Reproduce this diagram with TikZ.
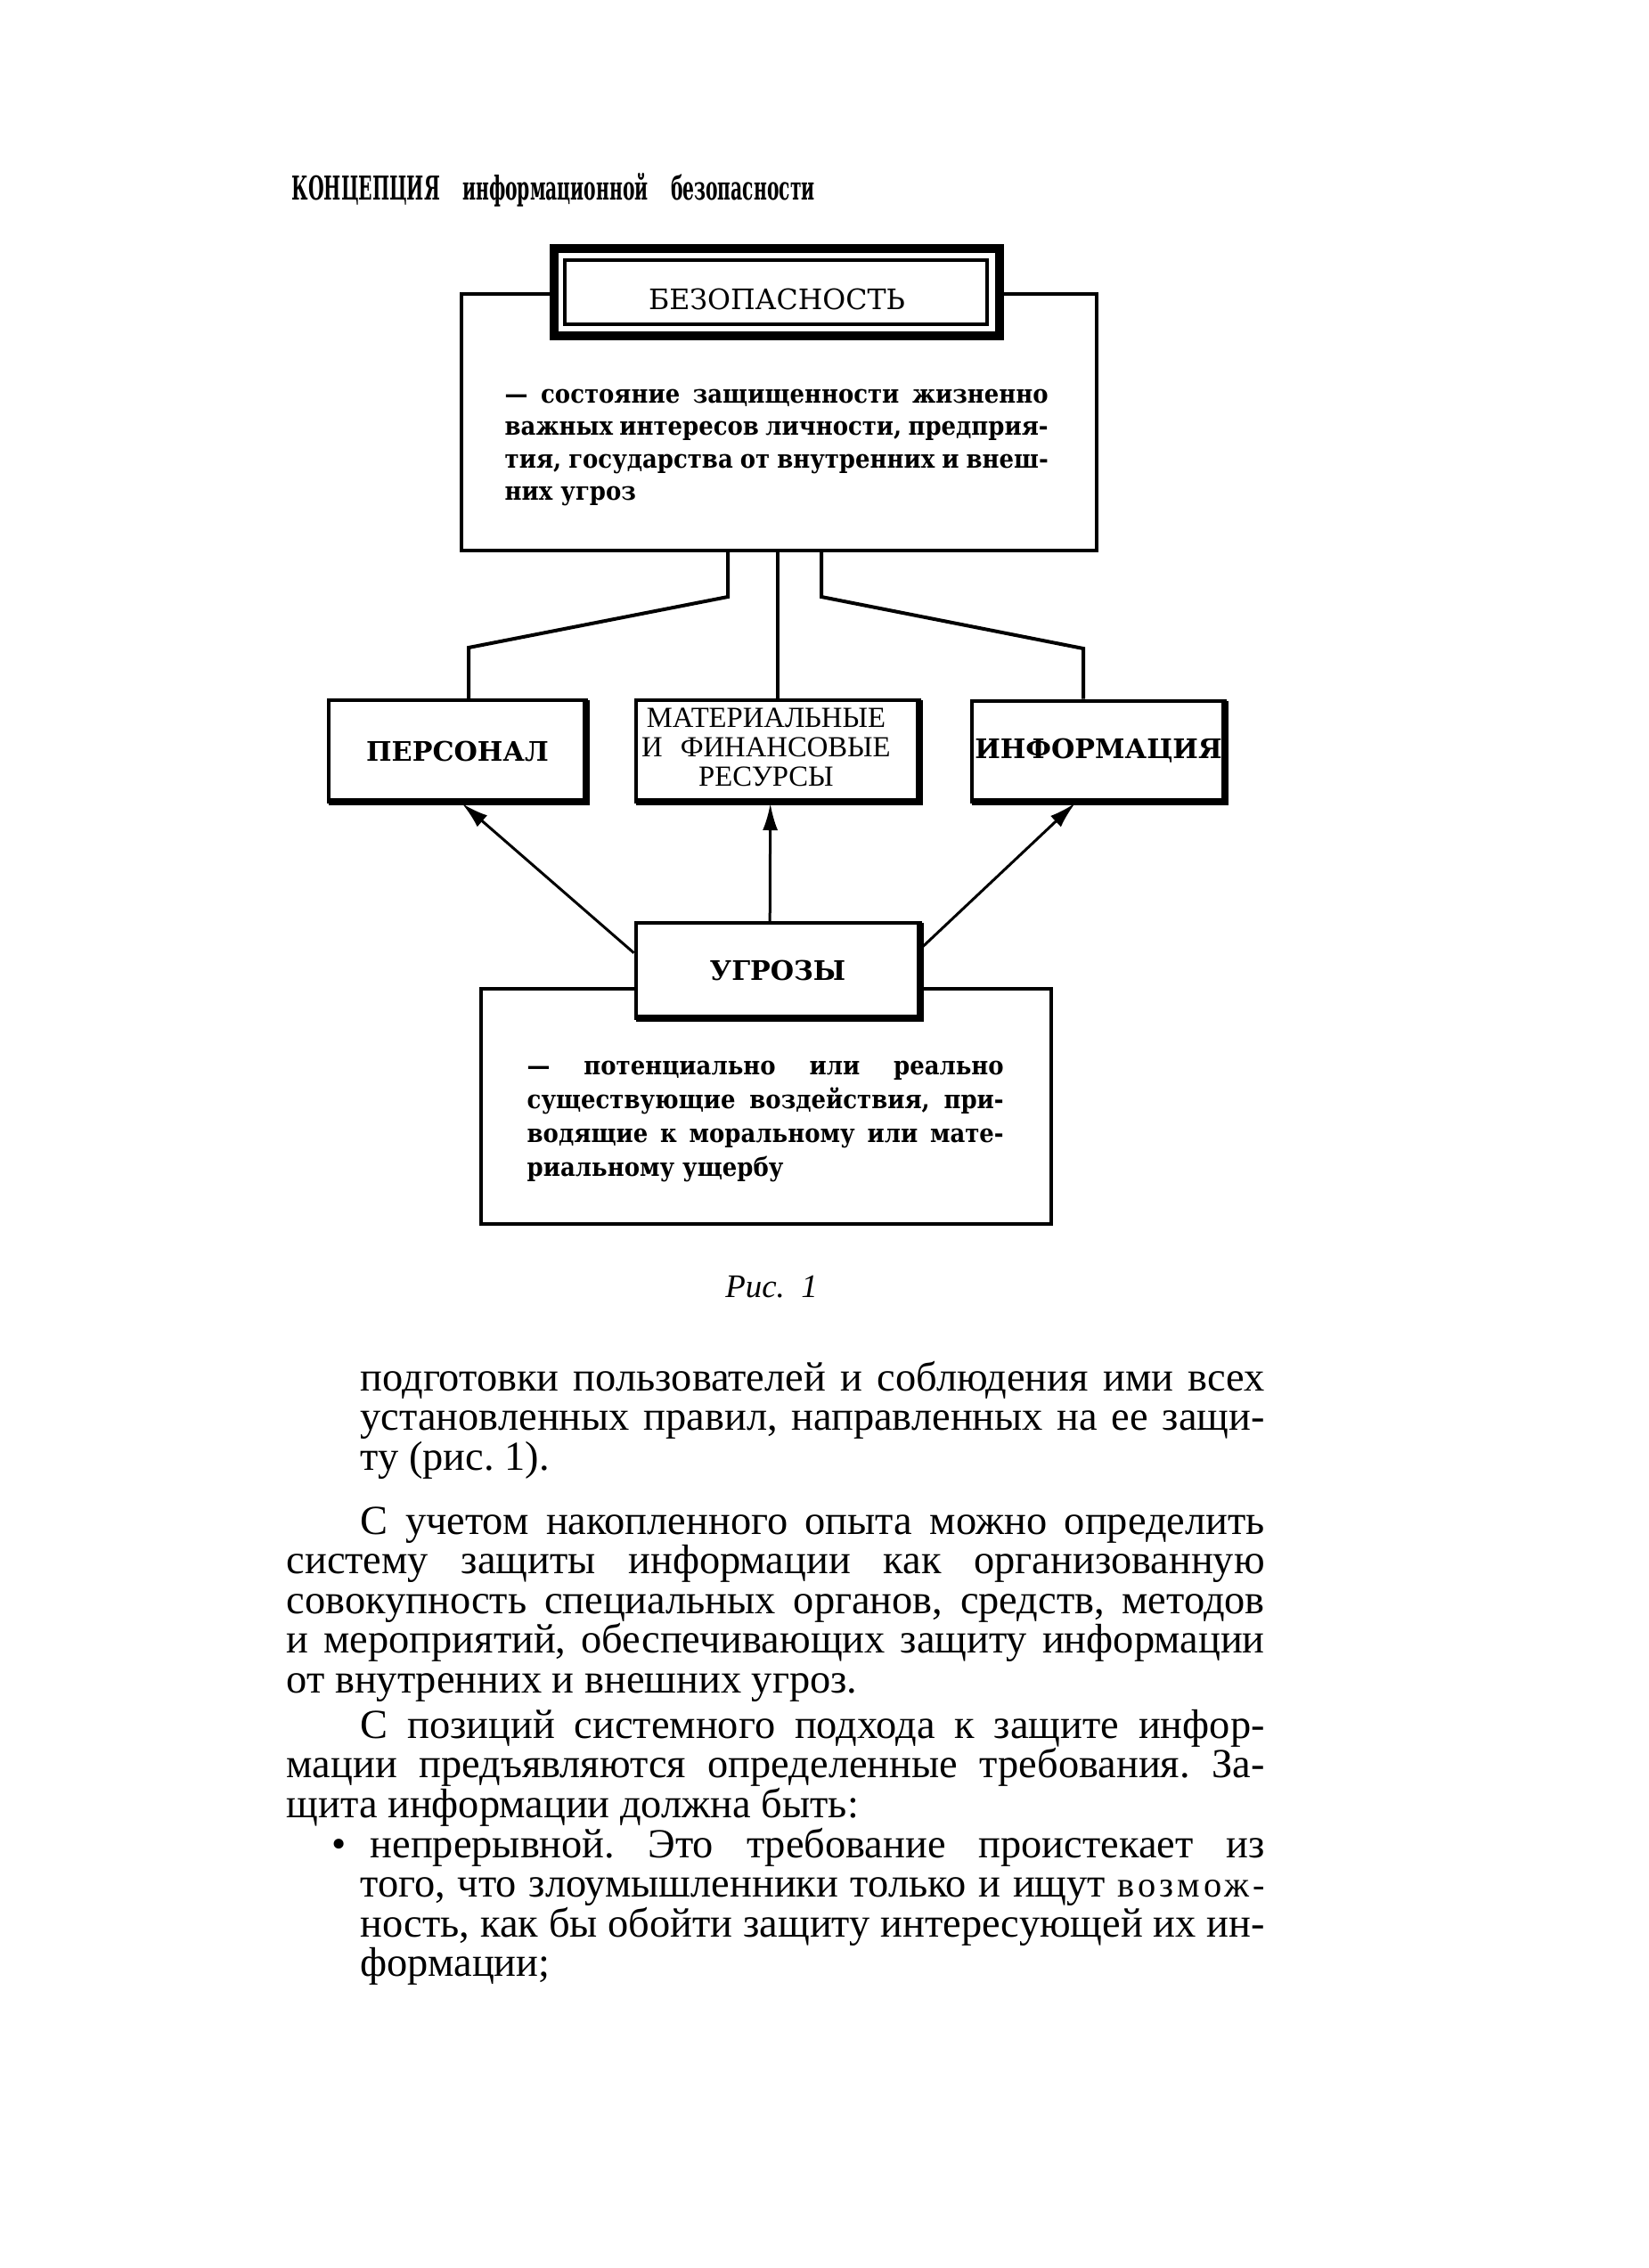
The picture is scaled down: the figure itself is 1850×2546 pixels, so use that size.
\documentclass[tikz,border=0pt]{standalone}
\usepackage{fontspec}
\setmainfont{Liberation Serif}
\newfontfamily\headfont[FakeStretch=0.55]{DejaVu Serif}
\newfontfamily\boxfont{DejaVu Serif}
\newfontfamily\deffont[FakeStretch=0.9]{DejaVu Serif}
\newfontfamily\thinfont{Liberation Serif}
\usepackage{tikz}
\usetikzlibrary{arrows.meta, positioning}
\tolerance=9999
\hyphenpenalty=10000
\frenchspacing
\newcommand\bodyfont{\fontsize{13.2}{12.66}\selectfont}
\newcommand\bodyspace{\lineskiplimit=-20pt\spaceskip=3.3pt plus 8pt minus 1.4pt\relax}

\begin{document}
\begin{tikzpicture}[
    x=0.1mm, y=-0.1mm,
    box/.style={rectangle, draw, line width=0.4mm, fill=white, inner sep=0pt, align=center, font=\boxfont\bfseries\fontsize{8.6}{10}\selectfont},
    secbox/.style={rectangle, draw, line width=1mm, fill=white, inner sep=0pt, minimum width=50mm, minimum height=9.8mm, text height=3.9mm, text depth=0pt, font=\boxfont\fontsize{9}{10}\selectfont},
    defbox/.style={rectangle, draw, line width=0.4mm},
    deftext/.style={anchor=base west, inner sep=0pt, align=justify},
    bodytext/.style={anchor=base west, inner sep=0pt, align=justify, font=\bodyfont},
    link/.style={line width=0.4mm},
    heavy/.style={line width=0.8mm},
    arrow/.style={->, >={Latex[length=3mm, width=1.7mm]}, line width=0.3mm}
]

\fill[white] (0,0) rectangle (1850,2546);
\useasboundingbox (0,0) rectangle (1850,2546);

% running head
\node[anchor=base west, inner sep=0pt, font=\headfont\bfseries\fontsize{10.5}{11}\selectfont] (head) at (327,224)
    {\makebox[58.7mm][s]{КОНЦЕПЦИЯ информационной безопасности}};

% security
\node[defbox, minimum width=71.3mm, minimum height=28.8mm] (secdef) at (874.5,474) {};
\node[secbox] (sec) at (872,328) {БЕЗОПАСНОСТЬ};
\draw[line width=0.35mm] ([shift={(17,18)}]sec.north west) rectangle ([shift={(-19,-18)}]sec.south east);
\node[deftext, text width=61mm, font=\deffont\bfseries\fontsize{8.2}{10.4}\selectfont] (sectext) at (566,452)
    {— состояние защищенности жизненно\linebreak
     важных интересов личности, предприя-\linebreak
     тия, государства от внутренних и внеш-\linebreak
     них угроз};

% objects
\node[box, minimum width=28.9mm, minimum height=11.4mm] (pers) at (513.5,843) {ПЕРСОНАЛ};
\node[box, right=5.2mm of pers, minimum width=31.8mm, minimum height=11.4mm,
      font=\thinfont\fontsize{9.3}{9.4}\selectfont] (res)
    {\begin{tabular}{@{}c@{}}МАТЕРИАЛЬНЫЕ\\И\hspace{2mm}ФИНАНСОВЫЕ\\РЕСУРСЫ\end{tabular}\hspace*{2.6mm}};
\node[box, right=5.5mm of res, minimum width=28.4mm, minimum height=11.3mm] (info) {ИНФОРМАЦИЯ};

\coordinate (kl1) at (817,670);
\coordinate (kl2) at (526,727);
\coordinate (kr1) at (922,670);
\coordinate (kr2) at (1216,728);
\draw[link] (kl1 |- secdef.south) -- (kl1) -- (kl2) -- (kl2 |- pers.north);
\draw[link] (res.north |- secdef.south) -- (res.north);
\draw[link] (kr1 |- secdef.south) -- (kr1) -- (kr2) -- (kr2 |- info.north);

% threats
\node[defbox, minimum width=64mm, minimum height=26.4mm] (thrdef) at (860,1242) {};
\node[box, below=13.2mm of res, minimum width=31.9mm, minimum height=10.7mm] (thr) {УГРОЗЫ};
\node[deftext, text width=53.5mm, font=\deffont\bfseries\fontsize{8.2}{10.9}\selectfont] (thrtext) at (591,1206)
    {— потенциально или реально\linebreak
     существующие воздействия, при-\linebreak
     водящие к моральному или мате-\linebreak
     риальному ущербу};

\foreach \n in {pers, res, info, thr}
    \draw[heavy] ([shift={(-2,2)}]\n.north east) -- ([shift={(-2,-2)}]\n.south east) -- ([shift={(2,-2)}]\n.south west);

\draw[arrow] (thr.173) -- (pers.275);
\draw[arrow] (thr.99) -- (res.262);
\draw[arrow] (thr.9) -- (info.246);

\node[anchor=base, inner sep=0pt, font=\itshape\fontsize{10.5}{12}\selectfont] (cap) at (866,1456) {Рис.\ \ 1};

% body text
\node[bodytext, text width=101.5mm] (par1) at (404,1561)
    {\bodyspace подготовки пользователей и соблюдения ими всех\linebreak
     установленных правил, направленных на ее защи-\linebreak
     ту (рис. 1).};
\node[bodytext, text width=109.8mm] (par2) at (321,1722)
    {\bodyspace\hspace*{8.3mm}С учетом накопленного опыта можно определить\linebreak
     систему защиты информации как организованную\linebreak
     совокупность специальных органов, средств, методов\linebreak
     и мероприятий, обеспечивающих защиту информации\linebreak
     от внутренних и внешних угроз.};
\node[bodytext, text width=109.8mm] (par3) at (321,1951)
    {\bodyspace\hspace*{8.3mm}С позиций системного подхода к защите инфор-\linebreak
     мации предъявляются определенные требования. За-\linebreak
     щита информации должна быть:};
\node[bodytext, text width=101.5mm] (item) at (404,2085)
    {\bodyspace\hspace*{1.1mm}\llap{\textbullet\hspace{2.7mm}}непрерывной. Это требование проистекает из\linebreak
     того, что злоумышленники только и ищут {\addfontfeature{LetterSpace=10}\fontsize{11.5}{12.66}\selectfont возмож-}\linebreak
     ность, как бы обойти защиту интересующей их ин-\linebreak
     формации;};

\end{tikzpicture}
\end{document}
